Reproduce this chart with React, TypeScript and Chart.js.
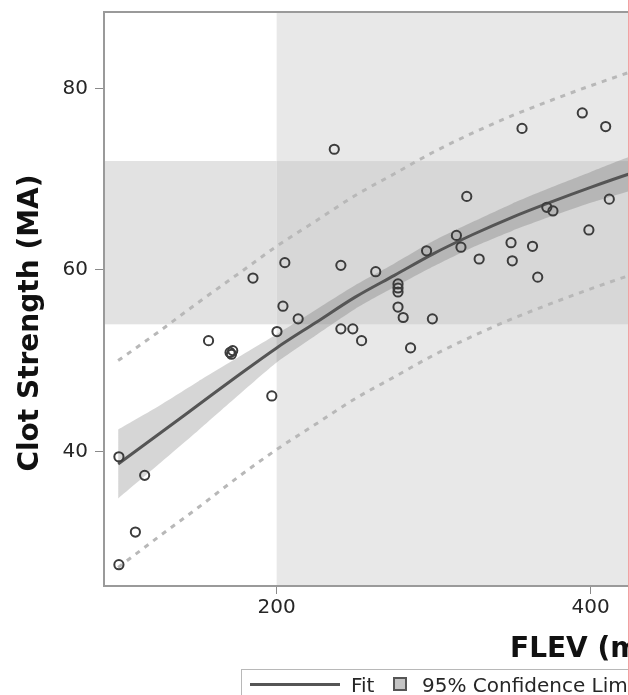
import React, { useEffect, useRef } from "react";
import { Chart, registerables } from "chart.js";

Chart.register(...registerables);

// Curve sample positions (FLEV, mg/dL)
const curveX = [99, 125, 150, 175, 200, 225, 250, 275, 300, 325, 350, 375, 400, 425, 440];
// Fitted Clot Strength
const fitY = [38.6, 41.9, 45.1, 48.3, 51.4, 54.2, 57.0, 59.4, 61.8, 63.9, 65.8, 67.5, 69.1, 70.6, 71.4];
// 95% confidence limits
const confUpper = [42.4, 45.0, 47.7, 50.3, 52.9, 55.6, 58.3, 60.7, 63.2, 65.3, 67.3, 69.1, 70.8, 72.5, 73.4];
const confLower = [34.8, 38.6, 42.3, 46.1, 49.8, 52.8, 55.7, 58.1, 60.4, 62.5, 64.3, 65.9, 67.4, 68.7, 69.4];
// 95% prediction limits
const predUpper = [50.0, 53.2, 56.4, 59.5, 62.6, 65.4, 68.2, 70.6, 73.0, 75.1, 77.0, 78.7, 80.3, 81.8, 82.7];
const predLower = [27.2, 30.6, 33.8, 37.1, 40.2, 43.0, 45.8, 48.2, 50.6, 52.7, 54.6, 56.3, 57.9, 59.4, 60.2];

// Observations
const obsFlev = [99.5, 99.5, 110, 115.9, 156.6, 170.3, 171.2, 172.0, 184.9, 196.9, 200.2, 204, 205.2, 213.7, 236.7, 240.9, 240.9, 248.5, 254.1, 263.1, 277.3, 277.3, 277.3, 277.3, 280.6, 285.3, 295.5, 299.2, 314.5, 317.4, 321.1, 329, 349.3, 350.1, 356.3, 363, 366.3, 372.1, 376, 394.7, 398.9, 409.6, 411.9];
const obsMa = [39.4, 27.5, 31.1, 37.35, 52.2, 50.9, 50.7, 51.1, 59.1, 46.1, 53.2, 56.0, 60.8, 54.6, 73.3, 60.5, 53.5, 53.5, 52.2, 59.8, 58.45, 58.0, 57.56, 55.9, 54.75, 51.4, 62.1, 54.6, 63.8, 62.5, 68.1, 61.2, 63.0, 61.0, 75.6, 62.6, 59.2, 66.9, 66.5, 77.3, 64.4, 75.8, 67.8];

// Reference (normal) ranges
const refFlev = [200, 460];
const refMa = [54, 72];

// Axis ticks and range
const xTicks = [200, 400];
const yTicks = [40, 60, 80];
const xRange = [90, 440];
const yRange = [25.15, 88.43];

const toPts = (xs: number[], ys: number[]) => xs.map((x, i) => ({ x, y: ys[i] }));

const bgPlugin = {
  id: "refBands",
  beforeDatasetsDraw(chart: any) {
    const { ctx, chartArea: a, scales } = chart;
    const x = scales.x;
    const y = scales.y;
    const x0 = x.getPixelForValue(refFlev[0]);
    const x1 = x.getPixelForValue(refFlev[1]);
    const yT = y.getPixelForValue(refMa[1]);
    const yB = y.getPixelForValue(refMa[0]);
    ctx.save();
    ctx.beginPath();
    ctx.rect(a.left, a.top, a.right - a.left, a.bottom - a.top);
    ctx.clip();
    ctx.fillStyle = "#ffffff";
    ctx.fillRect(a.left, a.top, a.right - a.left, a.bottom - a.top);
    ctx.fillStyle = "#e2e2e2";
    ctx.fillRect(a.left, yT, x0 - a.left, yB - yT);
    ctx.fillStyle = "#e8e8e8";
    ctx.fillRect(x0, a.top, x1 - x0, a.bottom - a.top);
    ctx.fillStyle = "#d7d7d7";
    ctx.fillRect(x0, yT, x1 - x0, yB - yT);
    ctx.restore();
  },
};

const framePlugin = {
  id: "frame",
  afterDraw(chart: any) {
    const { ctx, chartArea: a } = chart;
    ctx.save();
    ctx.strokeStyle = "#9a9a9a";
    ctx.lineWidth = 2;
    ctx.strokeRect(a.left, a.top, a.right - a.left, a.bottom - a.top);
    ctx.restore();
  },
};

const FONT = "'DejaVu Sans', Verdana, sans-serif";

export default function App() {
  const ref = useRef<HTMLCanvasElement | null>(null);

  useEffect(() => {
    if (!ref.current) return;
    const chart = new Chart(ref.current, {
      type: "line",
      data: {
        datasets: [
          {
            label: "confLower",
            data: toPts(curveX, confLower),
            borderWidth: 0,
            pointRadius: 0,
            fill: false,
            order: 4,
            tension: 0.2,
          } as any,
          {
            label: "95% Confidence Limits",
            data: toPts(curveX, confUpper),
            borderWidth: 0,
            pointRadius: 0,
            fill: "-1",
            backgroundColor: "rgba(70,70,70,0.22)",
            order: 3,
            tension: 0.2,
          } as any,
          {
            label: "Fit",
            data: toPts(curveX, fitY),
            borderColor: "#555555",
            borderWidth: 3,
            pointRadius: 0,
            fill: false,
            order: 1,
            cubicInterpolationMode: "monotone",
          } as any,
          {
            label: "95% Prediction Limits",
            data: toPts(curveX, predUpper),
            borderColor: "#b8b8b8",
            borderWidth: 3,
            borderDash: [5, 6],
            pointRadius: 0,
            fill: false,
            order: 2,
            cubicInterpolationMode: "monotone",
          } as any,
          {
            label: "predLower",
            data: toPts(curveX, predLower),
            borderColor: "#b8b8b8",
            borderWidth: 3,
            borderDash: [5, 6],
            pointRadius: 0,
            fill: false,
            order: 2,
            cubicInterpolationMode: "monotone",
          } as any,
          {
            label: "Observed",
            data: toPts(obsFlev, obsMa),
            showLine: false,
            pointRadius: 4.6,
            pointBorderWidth: 2,
            pointBorderColor: "#3c3c3c",
            pointBackgroundColor: "rgba(0,0,0,0)",
            order: 0,
          } as any,
        ],
      },
      options: {
        animation: false,
        responsive: false,
        devicePixelRatio: 1,
        layout: { padding: { top: 12, left: 0, right: 0, bottom: 0 } },
        plugins: {
          legend: { display: false },
          tooltip: { enabled: false },
          title: { display: false },
        },
        scales: {
          x: {
            type: "linear",
            min: xRange[0],
            max: xRange[1],
            afterBuildTicks: (s: any) => {
              s.ticks = xTicks.map((v) => ({ value: v }));
            },
            afterFit: (s: any) => {
              s.height = 109;
              s.paddingLeft = 0;
              s.paddingRight = 0;
            },
            grid: { drawOnChartArea: false, drawTicks: true, tickLength: 8, color: "#8a8a8a" },
            border: { display: false },
            ticks: {
              autoSkip: false,
              maxRotation: 0,
              padding: 2,
              color: "#262626",
              font: { family: FONT, size: 20 },
            },
          },
          y: {
            type: "linear",
            min: yRange[0],
            max: yRange[1],
            afterBuildTicks: (s: any) => {
              s.ticks = yTicks.map((v) => ({ value: v }));
            },
            afterFit: (s: any) => {
              s.width = 104;
              s.paddingTop = 0;
              s.paddingBottom = 0;
            },
            grid: { drawOnChartArea: false, drawTicks: true, tickLength: 9, color: "#8a8a8a" },
            border: { display: false },
            ticks: {
              autoSkip: false,
              padding: 7,
              color: "#262626",
              font: { family: FONT, size: 20 },
            },
          },
        },
      },
      plugins: [bgPlugin, framePlugin],
    });
    return () => chart.destroy();
  }, []);

  return (
    <div
      style={{
        position: "fixed",
        left: 0,
        top: 0,
        width: 629,
        height: 695,
        overflow: "hidden",
        background: "#ffffff",
        fontFamily: FONT,
      }}
    >
      <canvas ref={ref} width={660} height={695} style={{ position: "absolute", left: 0, top: 0 }} />
      <div
        style={{
          position: "absolute",
          left: 29 - 180,
          top: 323 - 17,
          width: 360,
          height: 34,
          lineHeight: "34px",
          textAlign: "center",
          transform: "rotate(-90deg)",
          transformOrigin: "center center",
          font: `bold 28px ${FONT}`,
          color: "#111111",
          whiteSpace: "nowrap",
        }}
      >
        Clot Strength (MA)
      </div>
      <div
        style={{
          position: "absolute",
          left: 510,
          top: 631,
          lineHeight: "28px",
          font: `bold 28px ${FONT}`,
          color: "#111111",
          whiteSpace: "nowrap",
        }}
      >
        FLEV (mg/dL)
      </div>
      <div
        style={{
          position: "absolute",
          left: 241,
          top: 669,
          width: 700,
          height: 40,
          border: "1px solid #b8b8b8",
          boxSizing: "border-box",
        }}
      />
      <div style={{ position: "absolute", left: 250, top: 682.5, width: 90, height: 3, background: "#555555" }} />
      <div
        style={{
          position: "absolute",
          left: 351,
          top: 673,
          lineHeight: "20px",
          font: `20px ${FONT}`,
          color: "#262626",
          whiteSpace: "nowrap",
        }}
      >
        Fit
      </div>
      <div
        style={{
          position: "absolute",
          left: 393,
          top: 677,
          width: 14,
          height: 14,
          boxSizing: "border-box",
          border: "2px solid #555555",
          background: "#c4c4c4",
        }}
      />
      <div
        style={{
          position: "absolute",
          left: 422,
          top: 673,
          lineHeight: "20px",
          font: `20px ${FONT}`,
          color: "#262626",
          whiteSpace: "nowrap",
        }}
      >
        95% Confidence Limits
      </div>
      <div style={{ position: "absolute", left: 628, top: 0, width: 1, height: 695, background: "#f2a0a0" }} />
    </div>
  );
}
